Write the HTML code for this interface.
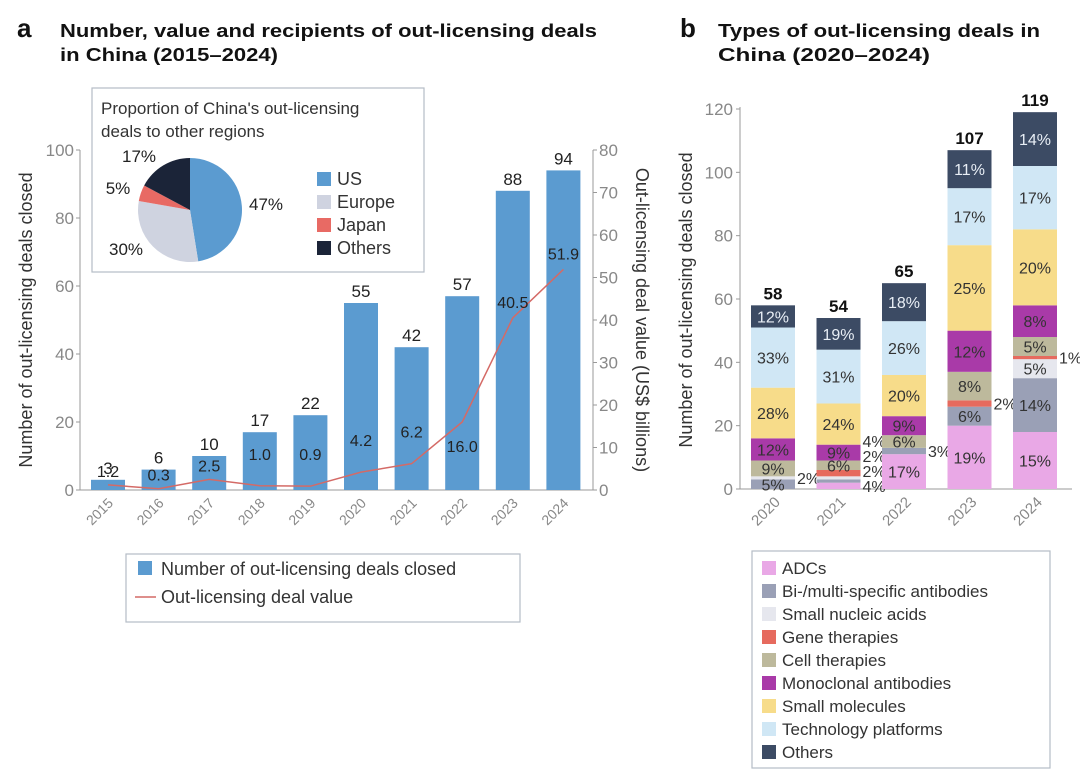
<!DOCTYPE html>
<html><head><meta charset="utf-8"><style>
html,body{margin:0;padding:0;background:#fff;}
svg{display:block;font-family:"Liberation Sans",sans-serif;}
</style></head><body>
<svg id="chart" width="1080" height="779" viewBox="0 0 1080 779" xmlns="http://www.w3.org/2000/svg">
<g>
<text x="17" y="37" font-size="26" font-weight="bold" fill="#111">a</text>
<text x="60" y="37" font-size="18" font-weight="bold" fill="#111" textLength="537" lengthAdjust="spacingAndGlyphs">Number, value and recipients of  out-licensing deals</text>
<text x="60" y="61" font-size="18" font-weight="bold" fill="#111" textLength="218" lengthAdjust="spacingAndGlyphs">in China (2015–2024)</text>
</g>
<g>
<text x="680" y="37" font-size="26" font-weight="bold" fill="#111">b</text>
<text x="718" y="37" font-size="18" font-weight="bold" fill="#111" textLength="322" lengthAdjust="spacingAndGlyphs">Types of out-licensing deals in</text>
<text x="718" y="61" font-size="18" font-weight="bold" fill="#111" textLength="212" lengthAdjust="spacingAndGlyphs">China (2020–2024)</text>
</g>
<g id="pa"></g>
<g id="pb"></g>
</svg>
<script>
// ---- Panel a data ----
const years = ["2015","2016","2017","2018","2019","2020","2021","2022","2023","2024"];
const dealCounts = [3,6,10,17,22,55,42,57,88,94];
const dealValues = [1.2,0.3,2.5,1.0,0.9,4.2,6.2,16.0,40.5,51.9];
const leftTicks = [0,20,40,60,80,100];
const rightTicks = [0,10,20,30,40,50,60,70,80];
const regions = ["US","Europe","Japan","Others"];
const regionShares = [47,30,5,17];
// ---- Panel b data ----
const yearsB = ["2020","2021","2022","2023","2024"];
const types = ["ADCs","Bi-/multi-specific antibodies","Small nucleic acids","Gene therapies","Cell therapies","Monoclonal antibodies","Small molecules","Technology platforms","Others"];
const adcs   = [0,2,11,20,18];
const bispec = [3,1,2,6,17];
const sna    = [1,1,0,0,6];
const gene   = [0,2,0,2,1];
const cell   = [5,3,4,9,6];
const mabs   = [7,5,6,13,10];
const smallMol = [16,13,13,27,24];
const techPlat = [19,17,17,18,20];
const others = [7,10,12,12,17];
const totalsB = [58,54,65,107,119];
const ticksB = [0,20,40,60,80,100,120];

const NS="http://www.w3.org/2000/svg";
function mk(parent,tag,attrs,text){const e=document.createElementNS(NS,tag);for(const k in attrs)e.setAttribute(k,attrs[k]);if(text!==undefined)e.textContent=text;parent.appendChild(e);return e;}

// ===== Panel a =====
const pa=document.getElementById('pa');
const aX0=80, aY0=490, aY1=150;
const yL=v=>aY0-(v/100)*(aY0-aY1);
const yR=v=>aY0-(v/80)*(aY0-aY1);
const xA=i=>108+i*50.6;
const barW=34;
let e=mk(pa,'line',{x1:aX0,y1:aY1,x2:aX0,y2:aY0,stroke:'#999','stroke-width':1});

e=mk(pa,'line',{x1:aX0,y1:aY0,x2:593,y2:aY0,stroke:'#999','stroke-width':1});

e=mk(pa,'line',{x1:593,y1:aY1,x2:593,y2:aY0,stroke:'#999','stroke-width':1});

leftTicks.forEach(t=>{
  const l=mk(pa,'line',{x1:aX0-4,y1:yL(t),x2:aX0,y2:yL(t),stroke:'#999'});
  
  const tx=mk(pa,'text',{x:aX0-6,y:yL(t)+6,'font-size':17,fill:'#888','text-anchor':'end'},String(t));
  
});
rightTicks.forEach(t=>{
  const l=mk(pa,'line',{x1:593,y1:yR(t),x2:597,y2:yR(t),stroke:'#999'});
  
  const tx=mk(pa,'text',{x:599,y:yR(t)+6,'font-size':17,fill:'#888'},String(t));
  
});
e=mk(pa,'text',{transform:'translate(32,320) rotate(-90)','font-size':18,fill:'#333','text-anchor':'middle'},'Number of out-licensing deals closed');

e=mk(pa,'text',{transform:'translate(636,320) rotate(90)','font-size':18,fill:'#333','text-anchor':'middle'},'Out-licensing deal value (US$ billions)');

dealCounts.forEach((v,i)=>{
  const r=mk(pa,'rect',{x:xA(i)-barW/2,y:yL(v),width:barW,height:aY0-yL(v),fill:'#5b9bd0'});
  
  const t=mk(pa,'text',{x:xA(i),y:yL(v)-6,'font-size':17,fill:'#222','text-anchor':'middle'},String(v));
  
  const yl=mk(pa,'text',{transform:`translate(${xA(i)+6},${aY0+14}) rotate(-45)`,'font-size':14,fill:'#888','text-anchor':'end'},years[i]);
  
});
const pts=dealValues.map((v,i)=>xA(i)+','+yR(v)).join(' ');
e=mk(pa,'polyline',{points:pts,fill:'none',stroke:'#d46a66','stroke-width':1.5});

dealValues.forEach((v,i)=>{
  let y=yR(v)-10;
  if(v>=10&&v<30) y=yR(v)+30;
  else if(v<10) y=Math.min(yR(v)-8, Math.max(yL(dealCounts[i])+22, yR(v)-26));
  const t=mk(pa,'text',{x:xA(i),y:y,'font-size':16,fill:'#222','text-anchor':'middle'},v.toFixed(1));
  
});
e=mk(pa,'rect',{x:92,y:88,width:332,height:184,fill:'#fff',stroke:'#b5bcc6','stroke-width':1.2});

e=mk(pa,'text',{x:101,y:114,'font-size':17,fill:'#333'},"Proportion of China's out-licensing");

e=mk(pa,'text',{x:101,y:137,'font-size':17,fill:'#333'},"deals to other regions");

const regionColors=['#5b9bd0','#cfd3e0','#e86a64','#1b2438'];
const pcx=190,pcy=210,pr=52;
const totalShare=regionShares.reduce((a,b)=>a+b,0);
let ang=-Math.PI/2;
const pieLabelPos=[[266,210],[126,255],[118,194],[139,162]];
regionShares.forEach((s,i)=>{
  const a2=ang+s/totalShare*2*Math.PI;
  const large=(a2-ang)>Math.PI?1:0;
  const d=`M${pcx},${pcy} L${pcx+pr*Math.cos(ang)},${pcy+pr*Math.sin(ang)} A${pr},${pr} 0 ${large} 1 ${pcx+pr*Math.cos(a2)},${pcy+pr*Math.sin(a2)} Z`;
  const p=mk(pa,'path',{d:d,fill:regionColors[i]});
  
  const t=mk(pa,'text',{x:pieLabelPos[i][0],y:pieLabelPos[i][1],'font-size':17,fill:'#222','text-anchor':'middle'},s+'%');
  
  ang=a2;
});
regions.forEach((r,i)=>{
  const y=172+i*23;
  const s=mk(pa,'rect',{x:317,y:y,width:14,height:14,fill:regionColors[i]});
  
  const t=mk(pa,'text',{x:337,y:y+13,'font-size':18,fill:'#333'},r);
  
});
e=mk(pa,'rect',{x:126,y:554,width:394,height:68,fill:'#fff',stroke:'#b5bcc6','stroke-width':1.2});

e=mk(pa,'rect',{x:138,y:561,width:14,height:14,fill:'#5b9bd0'});

e=mk(pa,'text',{x:161,y:575,'font-size':18,fill:'#333'},'Number of out-licensing deals closed');

e=mk(pa,'line',{x1:135,y1:597,x2:156,y2:597,stroke:'#d46a66','stroke-width':1.5});

e=mk(pa,'text',{x:161,y:603,'font-size':18,fill:'#333'},'Out-licensing deal value');


// ===== Panel b =====
const pb=document.getElementById('pb');
const bY0=489, bY1=109;
const yB=v=>bY0-(v/120)*(bY0-bY1);
const xB=i=>773+i*65.5;
const bW=44;
const series=[adcs,bispec,sna,gene,cell,mabs,smallMol,techPlat,others];
const typeColors=['#e9a8e6','#9aa0b6','#e6e7ee','#e66a5e','#bdb99c','#a93aa8','#f7dc8a','#d0e7f5','#3c4b64'];
const labelColors=['#333','#333','#333','#333','#333','#333','#333','#333','#e8eef5'];
e=mk(pb,'line',{x1:740,y1:bY1-2,x2:740,y2:bY0,stroke:'#999'});

e=mk(pb,'line',{x1:740,y1:bY0,x2:1072,y2:bY0,stroke:'#999'});

ticksB.forEach(t=>{
  const l=mk(pb,'line',{x1:736,y1:yB(t),x2:740,y2:yB(t),stroke:'#999'});
  
  const tx=mk(pb,'text',{x:733,y:yB(t)+6,'font-size':17,fill:'#888','text-anchor':'end'},String(t));
  
});
e=mk(pb,'text',{transform:'translate(692,300) rotate(-90)','font-size':18,fill:'#333','text-anchor':'middle'},'Number of out-licensing deals closed');

yearsB.forEach((yr,i)=>{
  const tot=totalsB[i];
  let cum=0;
  const small=[];
  series.forEach((arr,k)=>{
    const v=arr[i];
    if(v<=0){return;}
    const y0=yB(cum), y1=yB(cum+v);
    const r=mk(pb,'rect',{x:xB(i)-bW/2,y:y1,width:bW,height:y0-y1,fill:typeColors[k]});
    
    const pct=Math.round(v/tot*100)+'%';
    const h=y0-y1;
    if(h<9){ small.push({y:(y0+y1)/2, pct}); }
    else {
      const t=mk(pb,'text',{x:xB(i),y:(y0+y1)/2+6,'font-size':16,fill:labelColors[k],'text-anchor':'middle'},pct);
      
    }
    cum+=v;
  });
  // small labels: stack to the right, avoid overlap
  let lastY=Infinity;
  small.forEach(s=>{
    let y=Math.min(s.y+6, lastY-15);
    if(y>bY0+12) y=bY0+12;
    lastY=y;
    const t=mk(pb,'text',{x:xB(i)+bW/2+2,y:y,'font-size':16,fill:'#333','text-anchor':'start'},s.pct);
    
  });
  const t=mk(pb,'text',{x:xB(i),y:yB(tot)-6,'font-size':17,'font-weight':'bold',fill:'#111','text-anchor':'middle'},String(tot));
  
  const yl=mk(pb,'text',{transform:`translate(${xB(i)+8},${bY0+14}) rotate(-45)`,'font-size':15,fill:'#888','text-anchor':'end'},yr);
  
});
e=mk(pb,'rect',{x:752,y:551,width:298,height:217,fill:'#fff',stroke:'#b5bcc6','stroke-width':1.2});

types.forEach((tp,k)=>{
  const y=561+k*23;
  const s=mk(pb,'rect',{x:762,y:y,width:14,height:14,fill:typeColors[k]});
  
  const t=mk(pb,'text',{x:782,y:y+13,'font-size':17,fill:'#333'},tp);
  
});
</script>
</body></html>
